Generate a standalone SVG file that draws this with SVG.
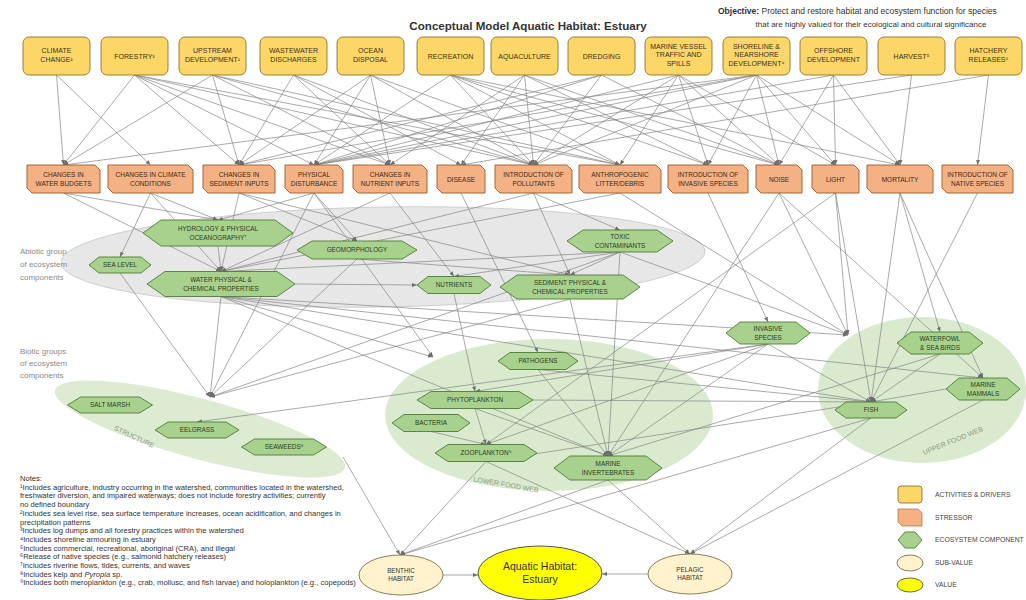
<svg xmlns="http://www.w3.org/2000/svg" width="1026" height="600" viewBox="0 0 1026 600">
<style>
text{font-family:"Liberation Sans",Arial,sans-serif;fill:#333}
.drv rect{fill:#FCD666;stroke:#8B7431;stroke-width:0.9}
.str path{fill:#F4B183;stroke:#9A5a2c;stroke-width:0.9}
.eco polygon{fill:#A9D18E;stroke:#4E7A34;stroke-width:0.9}
.d text{font-size:7px;text-anchor:middle;fill:#3a3320}
.s text{font-size:6.5px;text-anchor:middle;fill:#3a2a1a}
.e text{font-size:6.4px;text-anchor:middle;fill:#2a3a20}
.c line{stroke:#858585;stroke-width:0.7;marker-end:url(#ah)}
.grp{font-size:8px;fill:#8a8a8a}
.gl{font-size:7px;fill:#8d9a82}
.note{font-size:7.6px;fill:#333}
.leg{font-size:6.8px;fill:#444}
</style>
<defs>
<marker id="ah" viewBox="0 0 10 10" refX="10" refY="5" markerWidth="5" markerHeight="5" markerUnits="userSpaceOnUse" orient="auto"><path d="M0,1 L10,5 L0,9 z" fill="#6e6e6e"/></marker>
</defs>
<rect width="1026" height="600" fill="#fff"/>

<text x="528" y="30" font-size="11.6" font-weight="bold" text-anchor="middle" fill="#111">Conceptual Model Aquatic Habitat: Estuary</text>
<text x="718" y="14" font-size="8.5"><tspan font-weight="bold">Objective:</tspan> Protect and restore habitat and ecosystem function for species</text>
<text x="871" y="27" font-size="8" text-anchor="middle">that are highly valued for their ecological and cultural significance</text>

<!-- group backgrounds -->
<g id="abiotic-group">
<ellipse cx="383" cy="257" rx="322" ry="50" transform="rotate(-1 383 257)" fill="#E7E7E7" stroke="#c6c6c6" stroke-width="0.8"/>
</g>
<g id="structure-group">
<ellipse cx="200" cy="429" rx="150" ry="30" transform="rotate(15 200 429)" fill="#DDEBD3"/>
</g>
<g id="lower-food-web-group">
<ellipse cx="549" cy="415" rx="164" ry="76" fill="#DAEACF"/>
</g>
<g id="upper-food-web-group">
<ellipse cx="922" cy="390" rx="104" ry="73" fill="#DAEACF"/>
</g>
<text class="grp" x="20" y="254">Abiotic group</text>
<text class="grp" x="20" y="267">of ecosystem</text>
<text class="grp" x="20" y="280">components</text>
<text class="grp" x="20" y="354">Biotic groups</text>
<text class="grp" x="20" y="366">of ecosystem</text>
<text class="grp" x="20" y="378">components</text>
<text class="gl" x="134" y="439" text-anchor="middle" transform="rotate(25 134 437)">STRUCTURE</text>
<text class="gl" x="506" y="487" text-anchor="middle" transform="rotate(10 506 485)">LOWER FOOD WEB</text>
<text class="gl" x="953" y="443" text-anchor="middle" transform="rotate(-22 953 441)">UPPER FOOD WEB</text>

<g id="connectors" class="c">
<line x1="56.5" y1="75" x2="63.5" y2="165"/><line x1="56.5" y1="75" x2="150.5" y2="165"/>
<line x1="134.5" y1="75" x2="63.5" y2="165"/><line x1="134.5" y1="75" x2="239" y2="165"/><line x1="134.5" y1="75" x2="314" y2="165"/><line x1="134.5" y1="75" x2="390" y2="165"/><line x1="134.5" y1="75" x2="533.5" y2="165"/><line x1="134.5" y1="75" x2="620" y2="165"/>
<line x1="212.5" y1="75" x2="63.5" y2="165"/><line x1="212.5" y1="75" x2="239" y2="165"/><line x1="212.5" y1="75" x2="390" y2="165"/><line x1="212.5" y1="75" x2="533.5" y2="165"/><line x1="212.5" y1="75" x2="620" y2="165"/>
<line x1="293.5" y1="75" x2="239" y2="165"/><line x1="293.5" y1="75" x2="390" y2="165"/><line x1="293.5" y1="75" x2="461" y2="165"/><line x1="293.5" y1="75" x2="533.5" y2="165"/>
<line x1="370.5" y1="75" x2="239" y2="165"/><line x1="370.5" y1="75" x2="314" y2="165"/><line x1="370.5" y1="75" x2="390" y2="165"/><line x1="370.5" y1="75" x2="533.5" y2="165"/><line x1="370.5" y1="75" x2="620" y2="165"/>
<line x1="450.5" y1="75" x2="314" y2="165"/><line x1="450.5" y1="75" x2="533.5" y2="165"/><line x1="450.5" y1="75" x2="620" y2="165"/><line x1="450.5" y1="75" x2="708" y2="165"/><line x1="450.5" y1="75" x2="779" y2="165"/><line x1="450.5" y1="75" x2="900" y2="165"/>
<line x1="524.5" y1="75" x2="390" y2="165"/><line x1="524.5" y1="75" x2="461" y2="165"/><line x1="524.5" y1="75" x2="533.5" y2="165"/><line x1="524.5" y1="75" x2="708" y2="165"/><line x1="524.5" y1="75" x2="779" y2="165"/>
<line x1="601.5" y1="75" x2="239" y2="165"/><line x1="601.5" y1="75" x2="314" y2="165"/><line x1="601.5" y1="75" x2="533.5" y2="165"/><line x1="601.5" y1="75" x2="779" y2="165"/>
<line x1="678.5" y1="75" x2="314" y2="165"/><line x1="678.5" y1="75" x2="533.5" y2="165"/><line x1="678.5" y1="75" x2="620" y2="165"/><line x1="678.5" y1="75" x2="708" y2="165"/><line x1="678.5" y1="75" x2="779" y2="165"/><line x1="678.5" y1="75" x2="835.5" y2="165"/>
<line x1="756.5" y1="75" x2="63.5" y2="165"/><line x1="756.5" y1="75" x2="239" y2="165"/><line x1="756.5" y1="75" x2="314" y2="165"/><line x1="756.5" y1="75" x2="533.5" y2="165"/><line x1="756.5" y1="75" x2="708" y2="165"/><line x1="756.5" y1="75" x2="779" y2="165"/><line x1="756.5" y1="75" x2="835.5" y2="165"/><line x1="756.5" y1="75" x2="900" y2="165"/>
<line x1="833.5" y1="75" x2="314" y2="165"/><line x1="833.5" y1="75" x2="779" y2="165"/><line x1="833.5" y1="75" x2="835.5" y2="165"/><line x1="833.5" y1="75" x2="900" y2="165"/>
<line x1="911.5" y1="75" x2="314" y2="165"/><line x1="911.5" y1="75" x2="900" y2="165"/>
<line x1="988.5" y1="75" x2="461" y2="165"/><line x1="988.5" y1="75" x2="977.5" y2="165"/>

<line x1="63.5" y1="193" x2="218" y2="220"/><line x1="63.5" y1="193" x2="221" y2="271.5"/>
<line x1="150.5" y1="193" x2="120" y2="257"/><line x1="150.5" y1="193" x2="218" y2="220"/><line x1="150.5" y1="193" x2="221" y2="271.5"/>
<line x1="239" y1="193" x2="357" y2="241"/><line x1="239" y1="193" x2="570" y2="275"/><line x1="239" y1="193" x2="221" y2="271.5"/>
<line x1="314" y1="193" x2="357" y2="241"/><line x1="314" y1="193" x2="218" y2="220"/><line x1="314" y1="193" x2="210" y2="397"/><line x1="314" y1="193" x2="433" y2="357"/>
<line x1="390" y1="193" x2="454" y2="276.5"/><line x1="390" y1="193" x2="221" y2="271.5"/>
<line x1="461" y1="193" x2="538" y2="352.5"/>
<line x1="533.5" y1="193" x2="620" y2="230"/><line x1="533.5" y1="193" x2="221" y2="271.5"/><line x1="533.5" y1="193" x2="570" y2="275"/>
<line x1="620" y1="193" x2="221" y2="271.5"/><line x1="620" y1="193" x2="848" y2="335"/>
<line x1="708" y1="193" x2="768" y2="322"/>
<line x1="779" y1="193" x2="848" y2="335"/><line x1="779" y1="193" x2="608" y2="456"/><line x1="779" y1="193" x2="983" y2="378"/>
<line x1="835.5" y1="193" x2="848" y2="335"/><line x1="835.5" y1="193" x2="486" y2="444.5"/><line x1="835.5" y1="193" x2="871" y2="402"/>
<line x1="900" y1="193" x2="871" y2="402"/><line x1="900" y1="193" x2="940" y2="332"/><line x1="900" y1="193" x2="983" y2="378"/>
<line x1="977.5" y1="193" x2="871" y2="402"/>

<line x1="218" y1="246" x2="221" y2="271.5"/>
<line x1="357" y1="259" x2="570" y2="275"/><line x1="357" y1="259" x2="210" y2="397"/>
<line x1="120" y1="273" x2="210" y2="397"/>
<line x1="221" y1="296.5" x2="210" y2="397"/><line x1="295" y1="284" x2="417" y2="285"/><line x1="221" y1="296.5" x2="433" y2="357"/><line x1="221" y1="296.5" x2="608" y2="456"/><line x1="221" y1="296.5" x2="871" y2="402"/><line x1="221" y1="296.5" x2="848" y2="335"/><line x1="221" y1="296.5" x2="983" y2="378"/>
<line x1="620" y1="252" x2="221" y2="271.5"/><line x1="620" y1="252" x2="454" y2="276.5"/><line x1="620" y1="252" x2="570" y2="275"/><line x1="620" y1="252" x2="210" y2="397"/><line x1="620" y1="252" x2="848" y2="335"/><line x1="620" y1="252" x2="608" y2="456"/>
<line x1="454" y1="293.5" x2="475" y2="391.5"/>
<line x1="570" y1="299" x2="608" y2="456"/><line x1="570" y1="299" x2="210" y2="397"/>
<line x1="538" y1="369.5" x2="608" y2="456"/><line x1="538" y1="369.5" x2="871" y2="402"/>
<line x1="475" y1="408.5" x2="486" y2="444.5"/><line x1="475" y1="408.5" x2="608" y2="456"/><line x1="533" y1="400" x2="871" y2="402"/>
<line x1="431" y1="431.5" x2="486" y2="444.5"/>
<line x1="486" y1="461.5" x2="871" y2="402"/><line x1="486" y1="461.5" x2="400" y2="555"/><line x1="486" y1="461.5" x2="690" y2="554"/>
<line x1="608" y1="480" x2="400" y2="555"/><line x1="608" y1="480" x2="690" y2="554"/>
<line x1="768" y1="344" x2="197" y2="422"/><line x1="768" y1="344" x2="475" y2="391.5"/><line x1="768" y1="344" x2="486" y2="444.5"/><line x1="768" y1="344" x2="608" y2="456"/><line x1="768" y1="344" x2="871" y2="402"/>
<line x1="940" y1="354" x2="871" y2="402"/><line x1="940" y1="354" x2="608" y2="456"/>
<line x1="946" y1="389" x2="871" y2="402"/><line x1="983" y1="400" x2="690" y2="554"/>
<line x1="871" y1="418" x2="400" y2="555"/><line x1="871" y1="418" x2="690" y2="554"/>
<line x1="343" y1="457" x2="400" y2="555"/>
<line x1="443" y1="575" x2="478" y2="575"/><line x1="648" y1="574" x2="602" y2="574"/>
</g>

<!-- drivers -->
<g class="drv d">
<g id="climate-change"><rect x="23" y="37" width="67" height="38" rx="6"/><text x="56.5" y="53">CLIMATE</text><text x="56.5" y="61.5">CHANGE²</text></g>
<g id="forestry"><rect x="101" y="37" width="67" height="38" rx="6"/><text x="134.5" y="58.5">FORESTRY³</text></g>
<g id="upstream-development"><rect x="179" y="37" width="67" height="38" rx="6"/><text x="212.5" y="53">UPSTREAM</text><text x="212.5" y="61.5">DEVELOPMENT¹</text></g>
<g id="wastewater-discharges"><rect x="260" y="37" width="67" height="38" rx="6"/><text x="293.5" y="53">WASTEWATER</text><text x="293.5" y="61.5">DISCHARGES</text></g>
<g id="ocean-disposal"><rect x="337" y="37" width="67" height="38" rx="6"/><text x="370.5" y="53">OCEAN</text><text x="370.5" y="61.5">DISPOSAL</text></g>
<g id="recreation"><rect x="417" y="37" width="67" height="38" rx="6"/><text x="450.5" y="58.5">RECREATION</text></g>
<g id="aquaculture"><rect x="491" y="37" width="67" height="38" rx="6"/><text x="524.5" y="58.5">AQUACULTURE</text></g>
<g id="dredging"><rect x="568" y="37" width="67" height="38" rx="6"/><text x="601.5" y="58.5">DREDGING</text></g>
<g id="marine-vessel"><rect x="645" y="37" width="67" height="38" rx="6"/><text x="678.5" y="48.5">MARINE VESSEL</text><text x="678.5" y="57">TRAFFIC AND</text><text x="678.5" y="65.5">SPILLS</text></g>
<g id="shoreline"><rect x="723" y="37" width="67" height="38" rx="6"/><text x="756.5" y="48.5">SHORELINE &amp;</text><text x="756.5" y="57">NEARSHORE</text><text x="756.5" y="65.5">DEVELOPMENT⁴</text></g>
<g id="offshore-development"><rect x="800" y="37" width="67" height="38" rx="6"/><text x="833.5" y="53">OFFSHORE</text><text x="833.5" y="61.5">DEVELOPMENT</text></g>
<g id="harvest"><rect x="878" y="37" width="67" height="38" rx="6"/><text x="911.5" y="58.5">HARVEST⁵</text></g>
<g id="hatchery-releases"><rect x="955" y="37" width="67" height="38" rx="6"/><text x="988.5" y="53">HATCHERY</text><text x="988.5" y="61.5">RELEASES⁶</text></g>
</g>

<!-- stressors -->
<g class="str s">
<g id="s-water-budgets"><path d="M27 165H95L100 170V193H32L27 188Z"/><text x="63.5" y="176.5">CHANGES IN</text><text x="63.5" y="185.5">WATER BUDGETS</text></g>
<g id="s-climate-conditions"><path d="M108 165H188L193 170V193H113L108 188Z"/><text x="150.5" y="176.5">CHANGES IN CLIMATE</text><text x="150.5" y="185.5">CONDITIONS</text></g>
<g id="s-sediment-inputs"><path d="M203 165H270L275 170V193H208L203 188Z"/><text x="239" y="176.5">CHANGES IN</text><text x="239" y="185.5">SEDIMENT INPUTS</text></g>
<g id="s-physical-disturbance"><path d="M285 165H338L343 170V193H290L285 188Z"/><text x="314" y="176.5">PHYSICAL</text><text x="314" y="185.5">DISTURBANCE</text></g>
<g id="s-nutrient-inputs"><path d="M353 165H422L427 170V193H358L353 188Z"/><text x="390" y="176.5">CHANGES IN</text><text x="390" y="185.5">NUTRIENT INPUTS</text></g>
<g id="s-disease"><path d="M437 165H480L485 170V193H442L437 188Z"/><text x="461" y="181.5">DISEASE</text></g>
<g id="s-pollutants"><path d="M495 165H567L572 170V193H500L495 188Z"/><text x="533.5" y="176.5">INTRODUCTION OF</text><text x="533.5" y="185.5">POLLUTANTS</text></g>
<g id="s-litter"><path d="M579 165H656L661 170V193H584L579 188Z"/><text x="620" y="176.5">ANTHROPOGENIC</text><text x="620" y="185.5">LITTER/DEBRIS</text></g>
<g id="s-invasive"><path d="M668 165H743L748 170V193H673L668 188Z"/><text x="708" y="176.5">INTRODUCTION OF</text><text x="708" y="185.5">INVASIVE SPECIES</text></g>
<g id="s-noise"><path d="M756 165H797L802 170V193H761L756 188Z"/><text x="779" y="181.5">NOISE</text></g>
<g id="s-light"><path d="M812 165H854L859 170V193H817L812 188Z"/><text x="835.5" y="181.5">LIGHT</text></g>
<g id="s-mortality"><path d="M867 165H928L933 170V193H872L867 188Z"/><text x="900" y="181.5">MORTALITY</text></g>
<g id="s-native"><path d="M942 165H1008L1013 170V193H947L942 188Z"/><text x="977.5" y="176.5">INTRODUCTION OF</text><text x="977.5" y="185.5">NATIVE SPECIES</text></g>
</g>

<!-- ecosystem components -->
<g class="eco e">
<g id="hydrology"><polygon points="143,233 161,220 275,220 293,233 275,246 161,246"/><text x="218" y="231">HYDROLOGY &amp; PHYSICAL</text><text x="218" y="240">OCEANOGRAPHY⁷</text></g>
<g id="geomorphology"><polygon points="297,250 312,241 402,241 417,250 402,259 312,259"/><text x="357" y="252.3">GEOMORPHOLOGY</text></g>
<g id="toxic-contaminants"><polygon points="567,241 583,230 657,230 673,241 657,252 583,252"/><text x="620" y="239">TOXIC</text><text x="620" y="248">CONTAMINANTS</text></g>
<g id="sea-level"><polygon points="89,265 99,257 141,257 151,265 141,273 99,273"/><text x="120" y="267.3">SEA LEVEL</text></g>
<g id="water-properties"><polygon points="147,284 165,271.5 277,271.5 295,284 277,296.5 165,296.5"/><text x="221" y="282">WATER PHYSICAL &amp;</text><text x="221" y="291">CHEMICAL PROPERTIES</text></g>
<g id="nutrients"><polygon points="417,285 428,276.5 480,276.5 491,285 480,293.5 428,293.5"/><text x="454" y="287.3">NUTRIENTS</text></g>
<g id="sediment-properties"><polygon points="500,287 517,275 623,275 640,287 623,299 517,299"/><text x="570" y="285">SEDIMENT PHYSICAL &amp;</text><text x="570" y="294">CHEMICAL PROPERTIES</text></g>
<g id="invasive-species"><polygon points="726,333 740,322 796,322 810,333 796,344 740,344"/><text x="768" y="331">INVASIVE</text><text x="768" y="340">SPECIES</text></g>
<g id="waterfowl"><polygon points="897,343 911,332 969,332 983,343 969,354 911,354"/><text x="940" y="341">WATERFOWL</text><text x="940" y="350">&amp; SEA BIRDS</text></g>
<g id="marine-mammals"><polygon points="946,389 959,378 1007,378 1020,389 1007,400 959,400"/><text x="983" y="387">MARINE</text><text x="983" y="396">MAMMALS</text></g>
<g id="fish"><polygon points="835,410 846,402 896,402 907,410 896,418 846,418"/><text x="871" y="412.3">FISH</text></g>
<g id="pathogens"><polygon points="498,361 510,352.5 566,352.5 578,361 566,369.5 510,369.5"/><text x="538" y="363.3">PATHOGENS</text></g>
<g id="phytoplankton"><polygon points="417,400 431,391.5 519,391.5 533,400 519,408.5 431,408.5"/><text x="475" y="402.3">PHYTOPLANKTON</text></g>
<g id="bacteria"><polygon points="392,423 404,414.5 458,414.5 470,423 458,431.5 404,431.5"/><text x="431" y="425.3">BACTERIA</text></g>
<g id="zooplankton"><polygon points="435,453 448,444.5 524,444.5 537,453 524,461.5 448,461.5"/><text x="486" y="455.3">ZOOPLANKTON⁹</text></g>
<g id="marine-invertebrates"><polygon points="554,468 570,456 646,456 662,468 646,480 570,480"/><text x="608" y="466">MARINE</text><text x="608" y="475">INVERTEBRATES</text></g>
<g id="salt-marsh"><polygon points="67.5,405 80.5,397 139.5,397 152.5,405 139.5,413 80.5,413"/><text x="110" y="407.3">SALT MARSH</text></g>
<g id="eelgrass"><polygon points="155,430 168,422 226,422 239,430 226,438 168,438"/><text x="197" y="432.3">EELGRASS</text></g>
<g id="seaweeds"><polygon points="241.5,447 254.5,439 313.5,439 326.5,447 313.5,455 254.5,455"/><text x="284" y="449.3">SEAWEEDS⁸</text></g>
</g>

<!-- values -->
<g id="benthic-habitat"><ellipse cx="401" cy="575" rx="42" ry="20" fill="#FFF2CC" stroke="#7d6f4a" stroke-width="0.9"/><text x="401" y="573" font-size="6.3" text-anchor="middle">BENTHIC</text><text x="401" y="581" font-size="6.3" text-anchor="middle">HABITAT</text></g>
<g id="aquatic-habitat-estuary"><ellipse cx="540" cy="573" rx="62" ry="27" fill="#FFFF00" stroke="#555" stroke-width="1"/><text x="540" y="570" font-size="10.5" text-anchor="middle" fill="#3d3d10">Aquatic Habitat:</text><text x="540" y="583" font-size="10.5" text-anchor="middle" fill="#3d3d10">Estuary</text></g>
<g id="pelagic-habitat"><ellipse cx="690" cy="574" rx="42" ry="20" fill="#FFF2CC" stroke="#7d6f4a" stroke-width="0.9"/><text x="690" y="572" font-size="6.3" text-anchor="middle">PELAGIC</text><text x="690" y="580" font-size="6.3" text-anchor="middle">HABITAT</text></g>

<!-- notes -->
<g id="notes" class="note">
<text x="20" y="481">Notes:</text>
<text x="20" y="489.7">¹Includes agriculture, industry occurring in the watershed, communities located in the watershed,</text>
<text x="20" y="498.4">freshwater diversion, and impaired waterways; does not include forestry activities; currently</text>
<text x="20" y="507.1">no defined boundary</text>
<text x="20" y="515.8">²Includes sea level rise, sea surface temperature increases, ocean acidification, and changes in</text>
<text x="20" y="524.5">precipitation patterns</text>
<text x="20" y="533.2">³Includes log dumps and all forestry practices within the watershed</text>
<text x="20" y="541.9">⁴Includes shoreline armouring in estuary</text>
<text x="20" y="550.6">⁵Includes commercial, recreational, aboriginal (CRA), and illegal</text>
<text x="20" y="559.3">⁶Release of native species (e.g., salmonid hatchery releases)</text>
<text x="20" y="568">⁷Includes riverine flows, tides, currents, and waves</text>
<text x="20" y="576.7">⁸Includes kelp and <tspan font-style="italic">Pyropia</tspan> sp.</text>
<text x="20" y="585.4">⁹Includes both meroplankton (e.g., crab, mollusc, and fish larvae) and holoplankton (e.g., copepods)</text>
</g>

<!-- legend -->
<g id="legend">
<rect x="898" y="486" width="24" height="17" rx="3" fill="#FCD666" stroke="#8B7431" stroke-width="0.9"/>
<text class="leg" x="935" y="497">ACTIVITIES &amp; DRIVERS</text>
<path d="M898 509H918L922 513V526H902L898 522Z" fill="#F4B183" stroke="#9A5a2c" stroke-width="0.6"/>
<text class="leg" x="935" y="520">STRESSOR</text>
<polygon points="898,540 905,532 915,532 922,540 915,548 905,548" fill="#A9D18E" stroke="#4E7A34" stroke-width="0.9"/>
<text class="leg" x="935" y="542">ECOSYSTEM COMPONENT</text>
<ellipse cx="910" cy="563" rx="13" ry="8" fill="#FFF2CC" stroke="#7d6f4a" stroke-width="0.9"/>
<text class="leg" x="935" y="565">SUB-VALUE</text>
<ellipse cx="910" cy="585" rx="13" ry="7" fill="#FFFF00" stroke="#555" stroke-width="0.9"/>
<text class="leg" x="935" y="587">VALUE</text>
</g>
</svg>
